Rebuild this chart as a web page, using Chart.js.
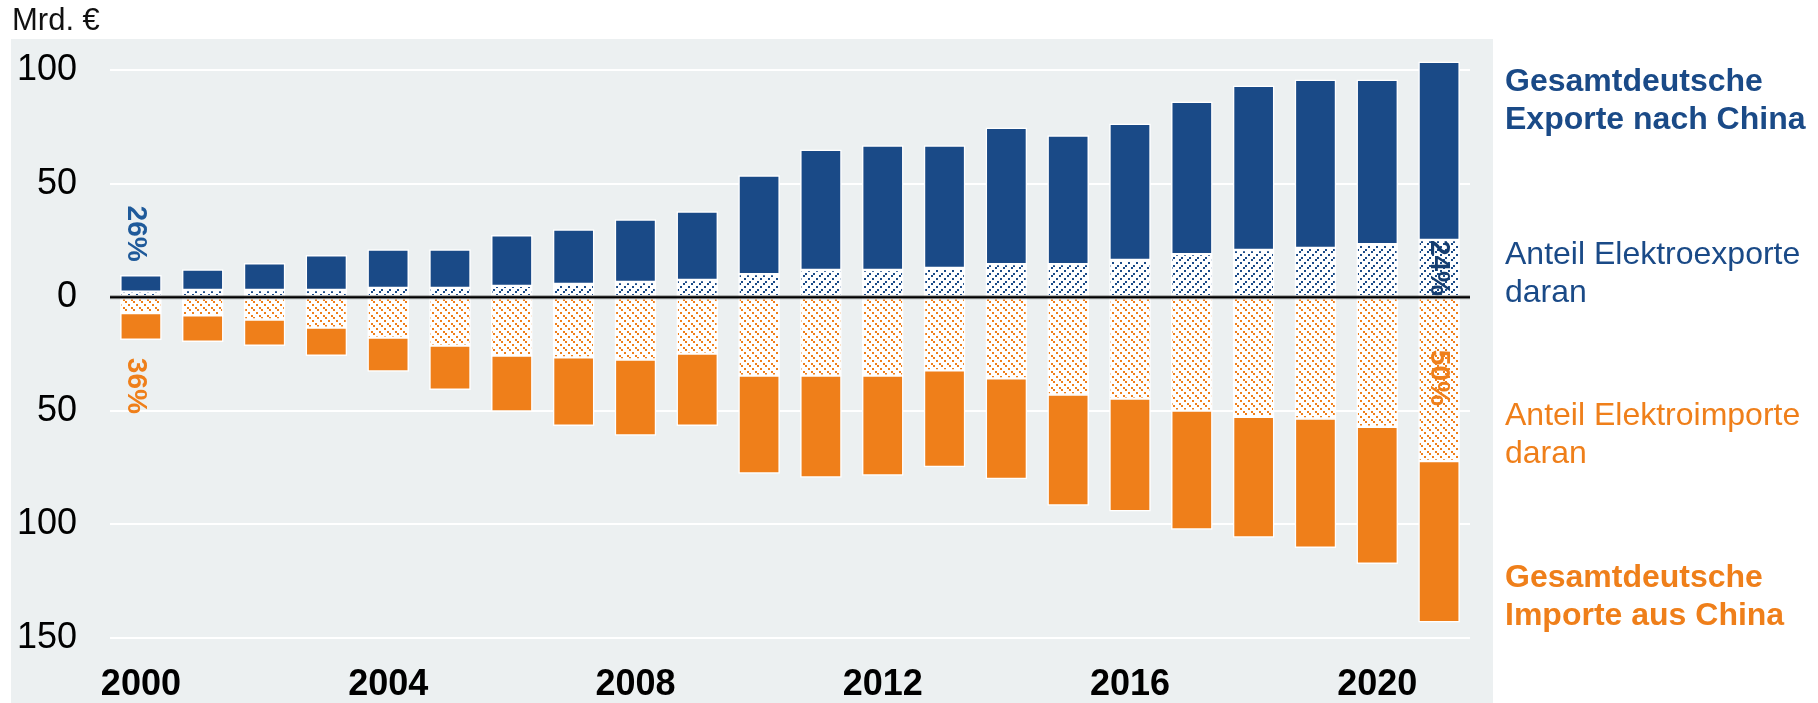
<!DOCTYPE html>
<html lang="de">
<head>
<meta charset="utf-8">
<title>Deutschland - China Handel</title>
<script src="https://cdn.jsdelivr.net/npm/chart.js"></script>
<style>
  body { margin: 0; background: #fff; font-family: "Liberation Sans", Arial, sans-serif; }
  #wrap { position: relative; width: 1818px; height: 703px; }
  #unit { position: absolute; left: 12px; top: 1px; font-size: 31px; line-height: 38px; color: #111; }
  .note { position: absolute; left: 1505px; font-size: 32px; line-height: 38px; white-space: nowrap; }
  .blue { color: #1a4a87; }
  .orange { color: #ef7f1a; }
  .bold { font-weight: bold; }
</style>
</head>
<body>
<div id="wrap">
  <canvas id="chart" width="1818" height="703"></canvas>
  <div id="unit">Mrd. €</div>
  <div class="note blue bold" style="top:61px">Gesamtdeutsche<br>Exporte nach China</div>
  <div class="note blue" style="top:234px">Anteil Elektroexporte<br>daran</div>
  <div class="note orange" style="top:395px">Anteil Elektroimporte<br>daran</div>
  <div class="note orange bold" style="top:557px">Gesamtdeutsche<br>Importe aus China</div>
</div>
<script>
  "use strict";

  // data (Mrd. €)
  const years = ["2000", "2001", "2002", "2003", "2004", "2005", "2006", "2007", "2008", "2009", "2010",
    "2011", "2012", "2013", "2014", "2015", "2016", "2017", "2018", "2019", "2020", "2021"];
  const exportsTotal = [9.6, 12.2, 14.9, 18.4, 21.0, 21.0, 27.2, 29.8, 34.2, 37.7, 53.5,
    64.9, 66.7, 66.7, 74.6, 71.1, 76.3, 86.0, 93.0, 95.7, 95.7, 103.6];
  const exportsElectro = [2.5, 3.2, 3.2, 3.2, 4.1, 4.1, 5.0, 5.9, 6.7, 7.6, 10.2,
    12.0, 12.0, 12.9, 14.6, 14.6, 16.4, 19.0, 20.8, 21.7, 23.4, 25.2];
  const importsTotal = [18.7, 19.6, 21.3, 25.7, 32.7, 40.7, 50.3, 56.5, 60.8, 56.5, 77.6,
    79.3, 78.4, 74.7, 80.0, 91.6, 94.2, 102.2, 105.7, 110.2, 117.3, 143.0];
  const importsElectro = [7.0, 8.0, 9.8, 13.4, 17.8, 21.3, 25.7, 26.5, 27.4, 24.8, 34.5,
    34.5, 34.5, 32.2, 35.7, 42.8, 44.6, 49.9, 52.6, 53.4, 57.0, 72.1];
  const yTicks = [-150, -100, -50, 0, 50, 100];

  const BLUE = "#1a4a87";
  const ORANGE = "#ef7f1a";
  const FONT = "'Liberation Sans', Arial, sans-serif";

  // share labels at the first and last year
  const shareLabels = [
    { idx: 0, text: "26%", value: 28, dx: -5, color: "#1f5a9a" },
    { idx: 0, text: "36%", value: -39, dx: -5, color: ORANGE },
    { idx: 21, text: "24%", value: 12.9, dx: 0, color: "#153d70" },
    { idx: 21, text: "50%", value: -35.5, dx: 0, color: ORANGE }
  ];

  // dotted diagonal hatch, lines 8px apart
  function hatch(color, rising) {
    const c = document.createElement("canvas");
    c.width = 8; c.height = 8;
    const g = c.getContext("2d");
    g.fillStyle = "#fff";
    g.fillRect(0, 0, 8, 8);
    g.fillStyle = color;
    [0, 3, 5].forEach(function (p) {
      g.fillRect(p, rising ? 6 - p : p, 2, 2);
    });
    return g.createPattern(c, "repeat");
  }

  const bgPlugin = {
    id: "bg",
    beforeDraw: function (chart) {
      const ctx = chart.ctx;
      ctx.save();
      ctx.fillStyle = "#ecf0f1";
      ctx.fillRect(11, 39, 1482, 664);
      ctx.restore();
    }
  };

  const overlayPlugin = {
    id: "overlay",
    afterDatasetsDraw: function (chart) {
      const ctx = chart.ctx;
      const x = chart.scales.x, y = chart.scales.y;
      const y0 = y.getPixelForValue(0);
      ctx.save();
      // zero line
      ctx.fillStyle = "rgba(0,0,0,0.35)";
      ctx.fillRect(chart.chartArea.left, y0 - 2, chart.chartArea.right - chart.chartArea.left, 4);
      ctx.fillStyle = "#000";
      ctx.fillRect(chart.chartArea.left, y0 - 1, chart.chartArea.right - chart.chartArea.left, 2);
      // rotated percentage labels
      ctx.font = "bold 28px " + FONT;
      ctx.textAlign = "center";
      ctx.textBaseline = "middle";
      shareLabels.forEach(function (l) {
        ctx.save();
        ctx.translate(x.getPixelForValue(l.idx) + l.dx, y.getPixelForValue(l.value));
        ctx.rotate(Math.PI / 2);
        ctx.fillStyle = l.color;
        ctx.fillText(l.text, 0, 0);
        ctx.restore();
      });
      ctx.restore();
    }
  };

  const ctx = document.getElementById("chart").getContext("2d");
  const common = { barThickness: 41, borderColor: "#fff", borderWidth: 1.5, borderSkipped: false, stack: "s" };

  new Chart(ctx, {
    type: "bar",
    data: {
      labels: years,
      datasets: [
        Object.assign({ label: "Elektroexporte", data: exportsElectro, backgroundColor: hatch(BLUE, true) }, common),
        Object.assign({ label: "Übrige Exporte", data: exportsTotal.map((v, i) => v - exportsElectro[i]), backgroundColor: BLUE }, common),
        Object.assign({ label: "Elektroimporte", data: importsElectro.map(v => -v), backgroundColor: hatch(ORANGE, false) }, common),
        Object.assign({ label: "Übrige Importe", data: importsTotal.map((v, i) => -(v - importsElectro[i])), backgroundColor: ORANGE }, common)
      ]
    },
    options: {
      responsive: false,
      devicePixelRatio: 1,
      animation: false,
      // the y tick padding (33) + half a label already keeps the top at ~55px
      layout: { padding: { top: 0, right: 348, left: 0, bottom: 0 } },
      plugins: {
        legend: { display: false },
        tooltip: { enabled: false }
      },
      scales: {
        x: {
          stacked: true,
          grid: { display: false, drawTicks: false },
          border: { display: false },
          afterFit: function (s) { s.height = 65; },
          ticks: {
            autoSkip: false,
            maxRotation: 0,
            padding: 25,
            color: "#000",
            font: { family: FONT, size: 36, weight: "bold" },
            callback: function (v, i) { return i % 4 === 0 ? this.getLabelForValue(v) : ""; }
          }
        },
        y: {
          stacked: true,
          min: -150,
          max: 106.8,
          afterFit: function (s) { s.width = 110; },
          afterBuildTicks: function (s) { s.ticks = yTicks.map(v => ({ value: v })); },
          grid: { color: "#fff", lineWidth: 2, drawTicks: false },
          border: { display: false },
          ticks: {
            padding: 33,
            color: "#000",
            font: { family: FONT, size: 36 },
            callback: v => Math.abs(v)
          }
        }
      }
    },
    plugins: [bgPlugin, overlayPlugin]
  });
</script>
</body>
</html>
